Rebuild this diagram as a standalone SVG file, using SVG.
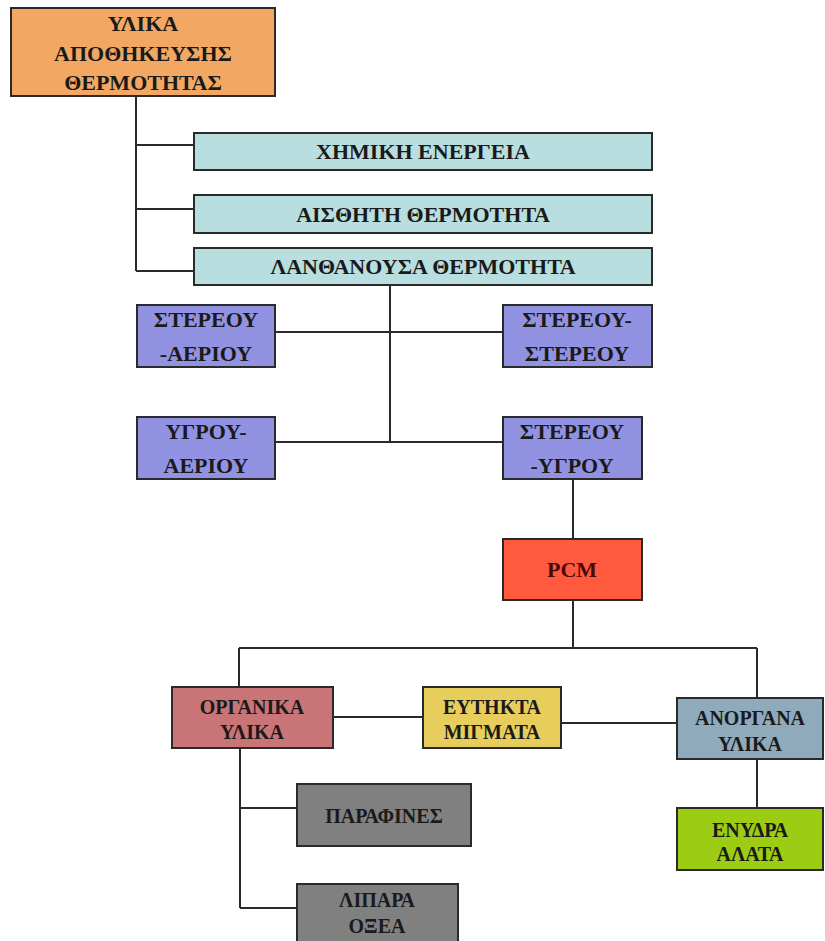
<svg xmlns="http://www.w3.org/2000/svg" width="825" height="941" viewBox="0 0 825 941">
<style>
.box{stroke:#2a2a2a;stroke-width:2}
.t{font-family:'Liberation Serif','DejaVu Serif',serif;font-weight:700;fill:#1a1a1a;text-anchor:middle}
.l{font-size:22px}
.s{font-size:20px}
.c{stroke:#2a2a2a;stroke-width:2;fill:none}
</style>
<rect width="825" height="941" fill="#ffffff"/>
<g id="connectors">
<path class="c" d="M136 96 V271 M136 145 H194 M136 209 H194 M136 271 H194"/>
<path class="c" d="M390 285 V442 M275 332 H503 M275 442 H503"/>
<path class="c" d="M573 479 V539 M573 600 V648 M239 648 H757 M239 648 V687 M757 648 V698"/>
<path class="c" d="M333 717 H423 M561 723 H677 M757 759 V808"/>
<path class="c" d="M240 748 V908 M240 808 H297 M240 908 H297"/>
</g>
<g id="n_top">
<rect class="box" x="11" y="8" width="264" height="88" fill="#F2A862"/>
<text class="t l" x="143" y="31">ΥΛΙΚΑ</text>
<text class="t l" x="143" y="61">ΑΠΟΘΗΚΕΥΣΗΣ</text>
<text class="t l" x="143" y="90">ΘΕΡΜΟΤΗΤΑΣ</text>
</g>
<g id="n_chem">
<rect class="box" x="194" y="133" width="458" height="37" fill="#B8DEDF"/>
<text class="t l" x="423" y="159">ΧΗΜΙΚΗ ΕΝΕΡΓΕΙΑ</text>
</g>
<g id="n_sens">
<rect class="box" x="194" y="195" width="458" height="38" fill="#B8DEDF"/>
<text class="t l" x="423" y="222">ΑΙΣΘΗΤΗ ΘΕΡΜΟΤΗΤΑ</text>
</g>
<g id="n_latent">
<rect class="box" x="194" y="248" width="458" height="37" fill="#B8DEDF"/>
<text class="t l" x="423" y="274">ΛΑΝΘΑΝΟΥΣΑ ΘΕΡΜΟΤΗΤΑ</text>
</g>
<g id="n_sg">
<rect class="box" x="137" y="305" width="138" height="62" fill="#9292E2"/>
<text class="t l" x="206" y="327">ΣΤΕΡΕΟΥ</text>
<text class="t l" x="206" y="361">-ΑΕΡΙΟΥ</text>
</g>
<g id="n_ss">
<rect class="box" x="503" y="305" width="149" height="62" fill="#9292E2"/>
<text class="t l" x="577" y="327">ΣΤΕΡΕΟΥ-</text>
<text class="t l" x="577" y="361">ΣΤΕΡΕΟΥ</text>
</g>
<g id="n_lg">
<rect class="box" x="137" y="417" width="138" height="62" fill="#9292E2"/>
<text class="t l" x="206" y="439">ΥΓΡΟΥ-</text>
<text class="t l" x="206" y="473">ΑΕΡΙΟΥ</text>
</g>
<g id="n_sl">
<rect class="box" x="503" y="417" width="139" height="62" fill="#9292E2"/>
<text class="t l" x="572" y="439">ΣΤΕΡΕΟΥ</text>
<text class="t l" x="572" y="473">-ΥΓΡΟΥ</text>
</g>
<g id="n_pcm">
<rect class="box" x="503" y="539" width="139" height="61" fill="#FF5A3E"/>
<text class="t l" x="572" y="577" style="fill:#4a0a0a">PCM</text>
</g>
<g id="n_org">
<rect class="box" x="172" y="687" width="161" height="61" fill="#C97477"/>
<text class="t s" x="252" y="714">ΟΡΓΑΝΙΚΑ</text>
<text class="t s" x="252" y="739">ΥΛΙΚΑ</text>
</g>
<g id="n_eut">
<rect class="box" x="423" y="687" width="138" height="61" fill="#E6CD5C"/>
<text class="t s" x="492" y="714">ΕΥΤΗΚΤΑ</text>
<text class="t s" x="492" y="739">ΜΙΓΜΑΤΑ</text>
</g>
<g id="n_inorg">
<rect class="box" x="677" y="698" width="146" height="61" fill="#8FAABB"/>
<text class="t s" x="750" y="725">ΑΝΟΡΓΑΝΑ</text>
<text class="t s" x="750" y="751">ΥΛΙΚΑ</text>
</g>
<g id="n_salts">
<rect class="box" x="677" y="808" width="146" height="62" fill="#9CCC14"/>
<text class="t s" x="750" y="837">ΕΝΥΔΡΑ</text>
<text class="t s" x="750" y="861">ΑΛΑΤΑ</text>
</g>
<g id="n_par">
<rect class="box" x="297" y="784" width="174" height="62" fill="#808080"/>
<text class="t s" x="384" y="823">ΠΑΡΑΦΙΝΕΣ</text>
</g>
<g id="n_fat">
<rect class="box" x="297" y="884" width="161" height="62" fill="#808080"/>
<text class="t s" x="377" y="907">ΛΙΠΑΡΑ</text>
<text class="t s" x="377" y="933">ΟΞΕΑ</text>
</g>
</svg>
